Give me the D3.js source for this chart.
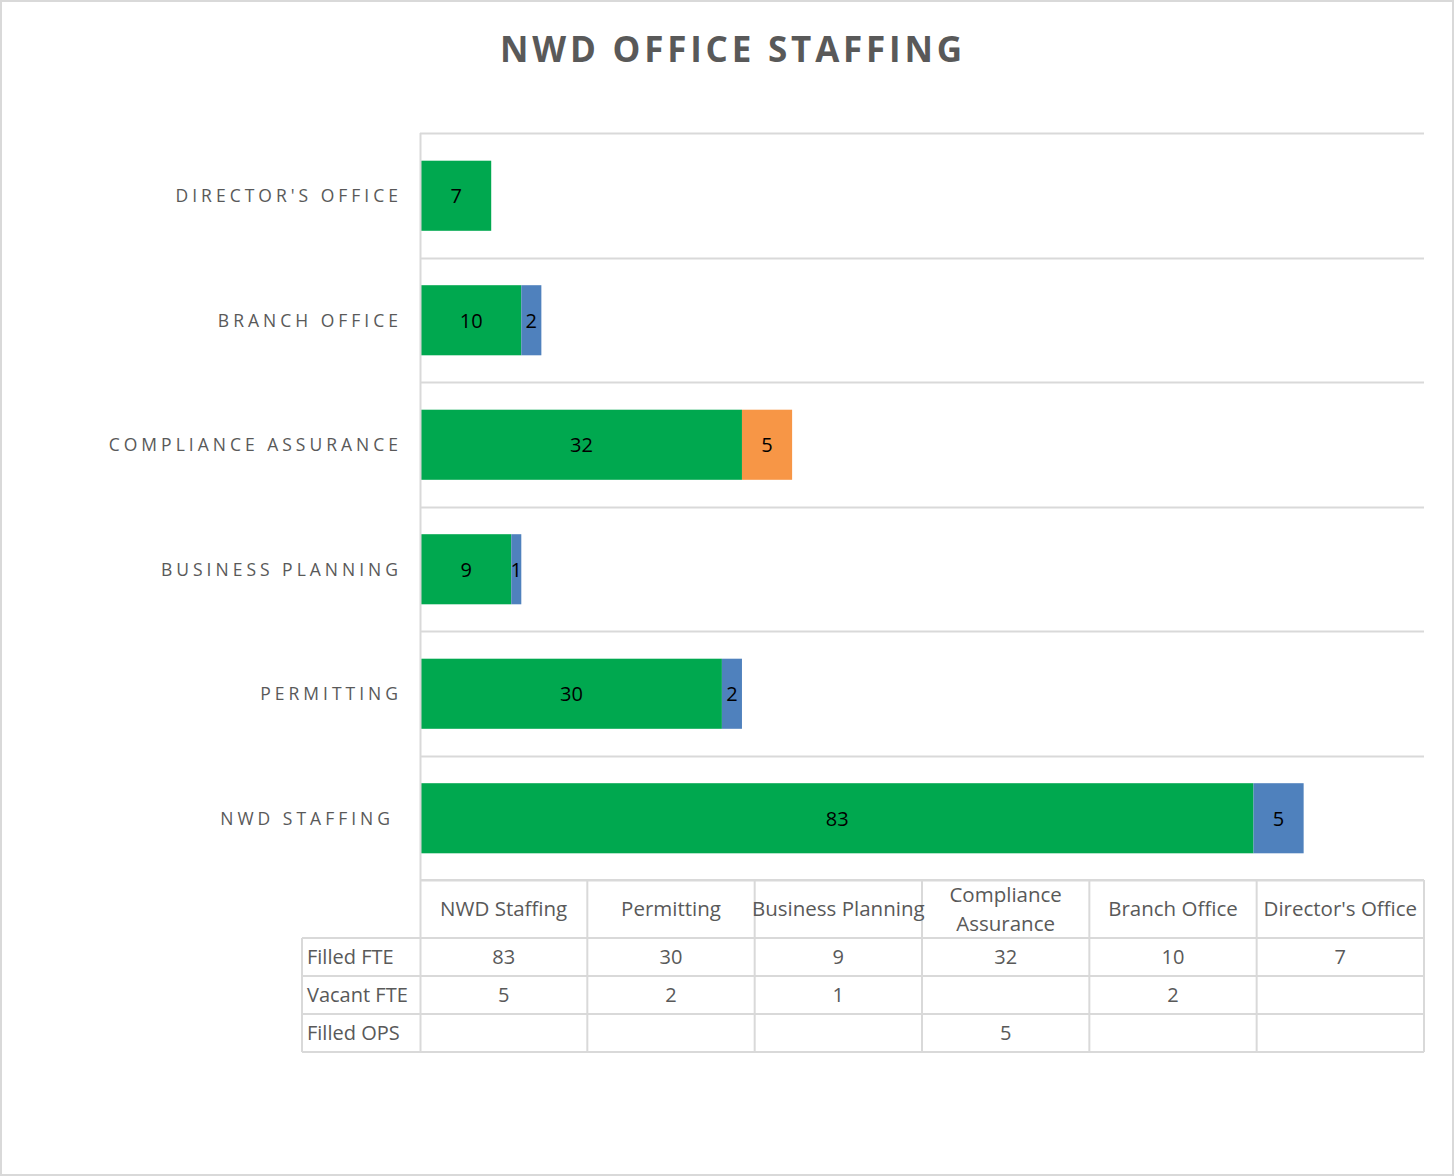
<!DOCTYPE html>
<html>
<head>
<meta charset="utf-8">
<script src="https://cdn.jsdelivr.net/npm/d3@7"></script>
<style>
  body { margin: 0; background: #fff; }
  svg { display: block; }
</style>
</head>
<body>
<div id="chart"></div>
<script>
(function () {
    'use strict';

    // table order (bottom bar first)
    const categories = ["NWD Staffing", "Permitting", "Business Planning", "Compliance Assurance", "Branch Office", "Director's Office"];
    const seriesNames = ["Filled FTE", "Vacant FTE", "Filled OPS"];
    const filledFTE = [83, 30, 9, 32, 10, 7];
    const vacantFTE = [5, 2, 1, null, 2, null];
    const filledOPS = [null, null, null, 5, null, null];
    const seriesColors = ["#00a84f", "#4f81bd", "#f79646"];

    const width = 1454, height = 1176;
    const txt = "#595959", grid = "#d9d9d9";
    const font = "'Open Sans', 'Noto Sans', sans-serif";

    const svg = d3.select("#chart").append("svg")
        .attr("width", width)
        .attr("height", height)
        .style("font-family", font);

    // outer frame
    svg.append("rect")
        .attr("x", 1).attr("y", 1)
        .attr("width", width - 2).attr("height", height - 2)
        .attr("fill", "#fff").attr("stroke", grid).attr("stroke-width", 2);

    svg.append("text")
        .attr("x", 733).attr("y", 62)
        .attr("text-anchor", "middle")
        .attr("fill", txt)
        .style("font-size", "35px")
        .style("font-weight", "bold")
        .style("letter-spacing", "3.8px")
        .text("NWD OFFICE STAFFING");

    const left = 420, right = 1424, top = 133, bottom = 880;

    const x = d3.scaleLinear().domain([0, 100]).range([left + 1, right]);
    const y = d3.scaleBand()
        .domain(categories.slice().reverse())
        .range([top, bottom])
        .paddingInner(0.445)
        .paddingOuter(0.2225);

    const allSeries = [filledFTE, vacantFTE, filledOPS];

    // horizontal grid lines at band edges
    const step = (bottom - top) / categories.length;
    const edges = d3.range(categories.length + 1).map(i => top + i * step);
    svg.append("g").selectAll("line")
        .data(edges)
        .enter().append("line")
        .attr("x1", left).attr("x2", right)
        .attr("y1", d => Math.round(d) + 0.5).attr("y2", d => Math.round(d) + 0.5)
        .attr("stroke", grid).attr("stroke-width", 2);

    // stacked bars
    const rows = categories.map((c, i) => {
        let acc = 0;
        return allSeries.map((s, k) => {
            const v = s[i] || 0;
            const seg = { cat: c, k: k, v: v, x0: acc, x1: acc + v };
            acc += v;
            return seg;
        }).filter(s => s.v > 0);
    }).flat();

    const bars = svg.append("g");
    bars.selectAll("rect")
        .data(rows)
        .enter().append("rect")
        .attr("x", d => x(d.x0))
        .attr("width", d => x(d.x1) - x(d.x0))
        .attr("y", d => y(d.cat))
        .attr("height", y.bandwidth() + 1)
        .attr("fill", d => seriesColors[d.k]);

    bars.selectAll("text")
        .data(rows)
        .enter().append("text")
        .attr("x", d => (x(d.x0) + x(d.x1)) / 2)
        .attr("y", d => y(d.cat) + y.bandwidth() / 2 + 8)
        .attr("text-anchor", "middle")
        .attr("fill", "#000")
        .style("font-size", "20px")
        .text(d => d.v);

    // category labels
    svg.append("g").selectAll("text")
        .data(categories)
        .enter().append("text")
        .attr("x", d => d === "NWD Staffing" ? 394 : 402)
        .attr("y", d => y(d) + y.bandwidth() / 2 + 7)
        .attr("text-anchor", "end")
        .attr("fill", txt)
        .style("font-size", "17.5px")
        .style("letter-spacing", "4px")
        .text(d => d.toUpperCase());

    // vertical axis line
    svg.append("line")
        .attr("x1", left + 0.5).attr("x2", left + 0.5)
        .attr("y1", top).attr("y2", 1052)
        .attr("stroke", grid).attr("stroke-width", 2);

    // data table
    const tx = d3.scaleBand().domain(categories).range([left, right]);
    const headTop = 880, headBot = 938, rowH = 38;
    const tableLeft = 302;
    const tbl = svg.append("g");

    const hLines = [headTop, headBot, headBot + rowH, headBot + 2 * rowH, headBot + 3 * rowH];
    tbl.selectAll("line.h")
        .data(hLines)
        .enter().append("line")
        .attr("x1", (d, i) => i === 0 ? left : tableLeft)
        .attr("x2", right)
        .attr("y1", d => d).attr("y2", d => d)
        .attr("stroke", grid).attr("stroke-width", 2);

    const vLines = categories.map(c => tx(c) + tx.bandwidth()).concat([tableLeft]);
    tbl.selectAll("line.v")
        .data(vLines)
        .enter().append("line")
        .attr("x1", d => d).attr("x2", d => d)
        .attr("y1", d => d === tableLeft ? headBot : headTop)
        .attr("y2", headBot + 3 * rowH)
        .attr("stroke", grid).attr("stroke-width", 2);

    // header
    const head = tbl.selectAll("text.head")
        .data(categories)
        .enter().append("text")
        .attr("text-anchor", "middle")
        .attr("fill", txt)
        .style("font-size", "20.5px");
    head.each(function (d) {
        const t = d3.select(this);
        const cx = tx(d) + tx.bandwidth() / 2;
        if (d === "Compliance Assurance") {
            t.append("tspan").attr("x", cx).attr("y", 902).text("Compliance");
            t.append("tspan").attr("x", cx).attr("y", 931).text("Assurance");
        } else {
            t.append("tspan").attr("x", cx).attr("y", 916).text(d);
        }
    });

    // row labels and values
    seriesNames.forEach((name, k) => {
        const ry = headBot + k * rowH + rowH / 2 + 7;
        tbl.append("text")
            .attr("x", 307).attr("y", ry)
            .attr("fill", txt)
            .style("font-size", "20px")
            .text(name);
        tbl.selectAll("text.v" + k)
            .data(categories.map((c, i) => ({ c: c, v: allSeries[k][i] })).filter(d => d.v != null))
            .enter().append("text")
            .attr("x", d => tx(d.c) + tx.bandwidth() / 2)
            .attr("y", ry)
            .attr("text-anchor", "middle")
            .attr("fill", txt)
            .style("font-size", "20px")
            .text(d => d.v);
    });
})();
</script>
</body>
</html>
